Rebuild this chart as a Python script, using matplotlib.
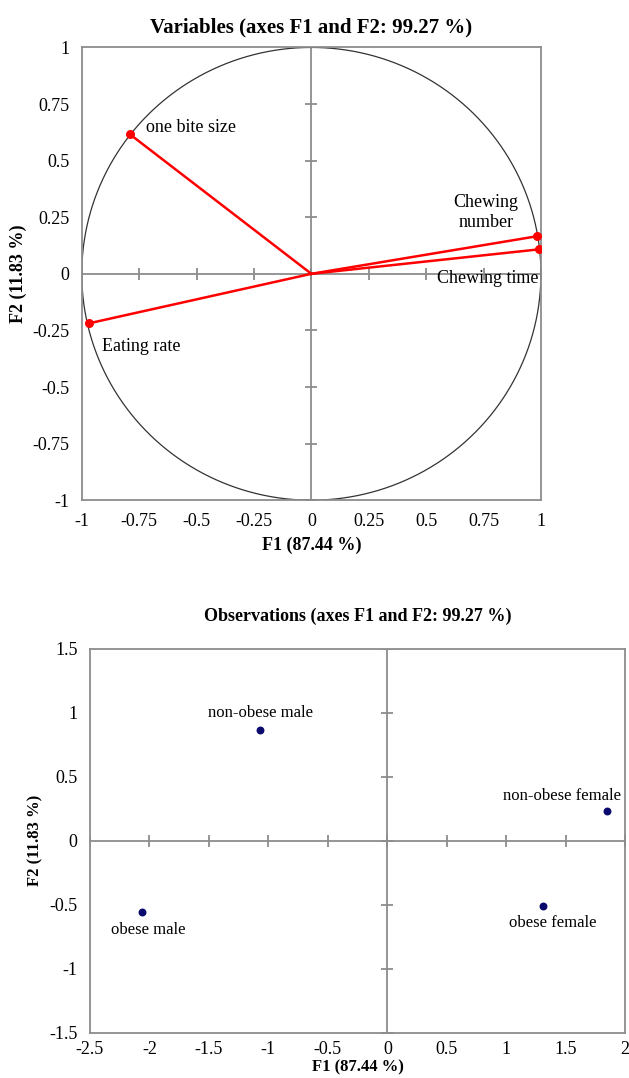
import numpy as np
import matplotlib.pyplot as plt

plt.rcParams['font.family'] = ['Liberation Serif', 'DejaVu Serif']

# Variables (correlation circle)
var_names = ['one bite size', 'Eating rate', 'Chewing\nnumber', 'Chewing time']
var_f1 = [-0.79, -0.97, 0.983, 0.991]
var_f2 = [0.616, -0.219, 0.166, 0.108]

# Observations
obs_names = ['non-obese male', 'non-obese female', 'obese male', 'obese female']
obs_f1 = [-1.07, 1.85, -2.06, 1.31]
obs_f2 = [0.87, 0.23, -0.56, -0.51]

top_ticks = [-1, -0.75, -0.5, -0.25, 0, 0.25, 0.5, 0.75, 1]
bot_xticks = [-2.5, -2, -1.5, -1, -0.5, 0, 0.5, 1, 1.5, 2]
bot_yticks = [-1.5, -1, -0.5, 0, 0.5, 1, 1.5]

frame_col = '#8c8c8c'
fs = 13


def style_axes(ax, xticks, yticks):
    for s in ax.spines.values():
        s.set_color(frame_col)
        s.set_linewidth(1.3)
    ax.set_xticks(xticks)
    ax.set_yticks(yticks)
    ax.set_xticklabels([f'{t:g}' for t in xticks], fontsize=fs)
    ax.set_yticklabels([f'{t:g}' for t in yticks], fontsize=fs)
    ax.tick_params(length=0, pad=9)
    ax.axhline(0, color=frame_col, lw=1.3, zorder=1)
    ax.axvline(0, color=frame_col, lw=1.3, zorder=1)
    # tick marks crossing the centre axes
    ax.plot(xticks, [0] * len(xticks), ls='none', marker='|', ms=9,
            color=frame_col, mew=1.3, zorder=1)
    ax.plot([0] * len(yticks), yticks, ls='none', marker='_', ms=9,
            color=frame_col, mew=1.3, zorder=1)


fig = plt.figure(figsize=(6.29, 10.78), dpi=100)

# ---- top: variables ----
ax1 = fig.add_axes([0.130, 0.536, 0.730, 0.420])
ax1.set_xlim(-1, 1)
ax1.set_ylim(-1, 1)
style_axes(ax1, top_ticks, top_ticks)
theta = np.linspace(0, 2 * np.pi, 400)
ax1.plot(np.cos(theta), np.sin(theta), color='#333333', lw=0.9, zorder=2)
for x, y in zip(var_f1, var_f2):
    ax1.plot([0, x], [0, y], color='red', lw=1.8, zorder=3)
ax1.scatter(var_f1, var_f2, color='red', s=30, zorder=4)

ax1.text(var_f1[0] + 0.07, var_f2[0] + 0.03, var_names[0], fontsize=fs,
         ha='left', va='center')
ax1.text(var_f1[1] + 0.06, var_f2[1] - 0.1, var_names[1], fontsize=fs,
         ha='left', va='center')
ax1.text(0.76, 0.27, var_names[2], fontsize=fs, ha='center', va='center',
         linespacing=1.25)
ax1.text(0.77, -0.02, var_names[3], fontsize=fs, ha='center', va='center')

ax1.set_title('Variables (axes F1 and F2: 99.27 %)', fontsize=15,
              fontweight='bold', pad=11)
ax1.set_xlabel('F1 (87.44 %)', fontsize=fs, fontweight='bold', labelpad=5)
ax1.set_ylabel('F2 (11.83 %)', fontsize=fs, fontweight='bold', labelpad=4)

# ---- bottom: observations ----
ax2 = fig.add_axes([0.143, 0.042, 0.851, 0.356])
ax2.set_xlim(-2.5, 2)
ax2.set_ylim(-1.5, 1.5)
style_axes(ax2, bot_xticks, bot_yticks)
ax2.tick_params(axis='x', pad=6)
ax2.scatter(obs_f1, obs_f2, color='#0a0a6e', s=22, zorder=4)

ax2.text(obs_f1[0], obs_f2[0] + 0.13, obs_names[0], fontsize=fs - 1,
         ha='center', va='center')
ax2.text(obs_f1[1] - 0.38, obs_f2[1] + 0.12, obs_names[1], fontsize=fs - 1,
         ha='center', va='center')
ax2.text(obs_f1[2] + 0.05, obs_f2[2] - 0.14, obs_names[2], fontsize=fs - 1,
         ha='center', va='center')
ax2.text(obs_f1[3] + 0.08, obs_f2[3] - 0.13, obs_names[3], fontsize=fs - 1,
         ha='center', va='center')

ax2.set_title('Observations (axes F1 and F2: 99.27 %)', fontsize=fs,
              fontweight='bold', pad=20)
ax2.set_xlabel('F1 (87.44 %)', fontsize=fs - 1, fontweight='bold', labelpad=1)
ax2.set_ylabel('F2 (11.83 %)', fontsize=fs - 1, fontweight='bold', labelpad=4)

fig.savefig('out.png', dpi=100)
